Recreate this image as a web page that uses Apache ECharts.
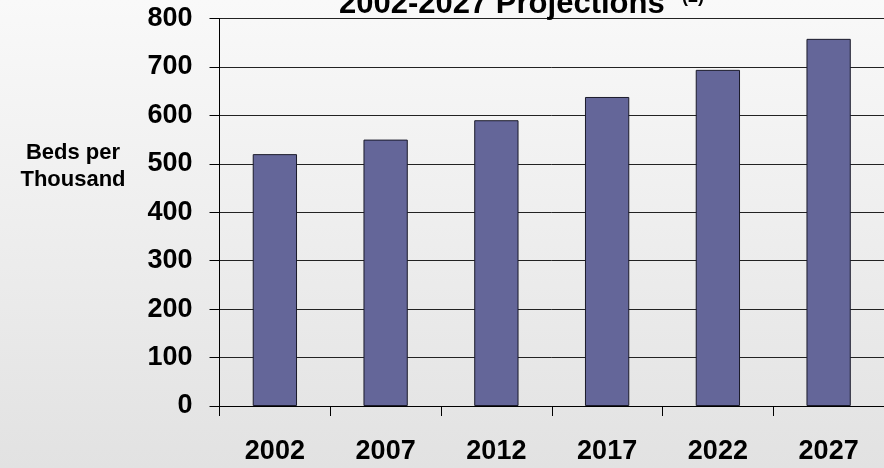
<!DOCTYPE html>
<html>
<head>
<meta charset="utf-8">
<script src="https://cdn.jsdelivr.net/npm/echarts@6/dist/echarts.min.js"></script>
<style>html,body{margin:0;padding:0;}#c{width:884px;height:468px;}</style>
</head>
<body>
<div id="c"></div>
<script>
const categories = ['2002', '2007', '2012', '2017', '2022', '2027'];
const bedsPerThousand = [520, 550, 590, 638, 694, 758];
const yTicks = [0, 100, 200, 300, 400, 500, 600, 700, 800];
const titleText = '2002-2027 Projections';
const titleNote = '(2)';
const yName = 'Beds per\nThousand';

const chart = echarts.init(document.getElementById('c'), null, {renderer: 'canvas'});
const font = 'Liberation Sans, Arial, Helvetica, sans-serif';
chart.setOption({
  animation: false,
  backgroundColor: {
    type: 'linear', x: 0, y: 0, x2: 0, y2: 1,
    colorStops: [{offset: 0, color: '#f9f9f9'}, {offset: 1, color: '#e2e2e2'}]
  },
  title: {
    text: titleText,
    left: 339, top: -13,
    padding: 0,
    textStyle: {fontFamily: font, fontWeight: 'bold', fontSize: 31, color: '#000', lineHeight: 34}
  },
  graphic: [{
    type: 'text', x: 682, y: 6,
    style: {
      text: titleNote, fontFamily: font, fontWeight: 'bold', fontSize: 18,
      fill: '#000', align: 'left', verticalAlign: 'bottom'
    }
  }, {
    type: 'text', x: 73, y: 139,
    style: {
      text: yName, fontFamily: font, fontWeight: 'bold', fontSize: 22,
      fill: '#000', align: 'center', verticalAlign: 'top', lineHeight: 27
    }
  }],
  grid: {left: 219.5, top: 18.5, right: -7, bottom: 62, containLabel: false},
  xAxis: {
    type: 'category', data: categories,
    axisLine: {lineStyle: {color: '#000', width: 1}},
    axisTick: {show: true, length: 10, lineStyle: {color: '#000'}},
    axisLabel: {fontFamily: font, fontWeight: 'bold', fontSize: 27, color: '#000', margin: 32}
  },
  yAxis: {
    type: 'value', min: yTicks[0], max: yTicks[yTicks.length - 1], interval: 100,
    axisLine: {show: true, lineStyle: {color: '#000', width: 1}},
    axisTick: {show: true, length: 10, lineStyle: {color: '#000'}},
    axisLabel: {fontFamily: font, fontWeight: 'bold', fontSize: 27, color: '#000', margin: 27},
    splitLine: {show: true, lineStyle: {color: '#222', width: 1}}
  },
  series: [{
    type: 'bar', data: bedsPerThousand, barWidth: '40%',
    itemStyle: {color: '#646699', borderColor: '#1a1a2a', borderWidth: 1}
  }]
});
</script>
</body>
</html>
